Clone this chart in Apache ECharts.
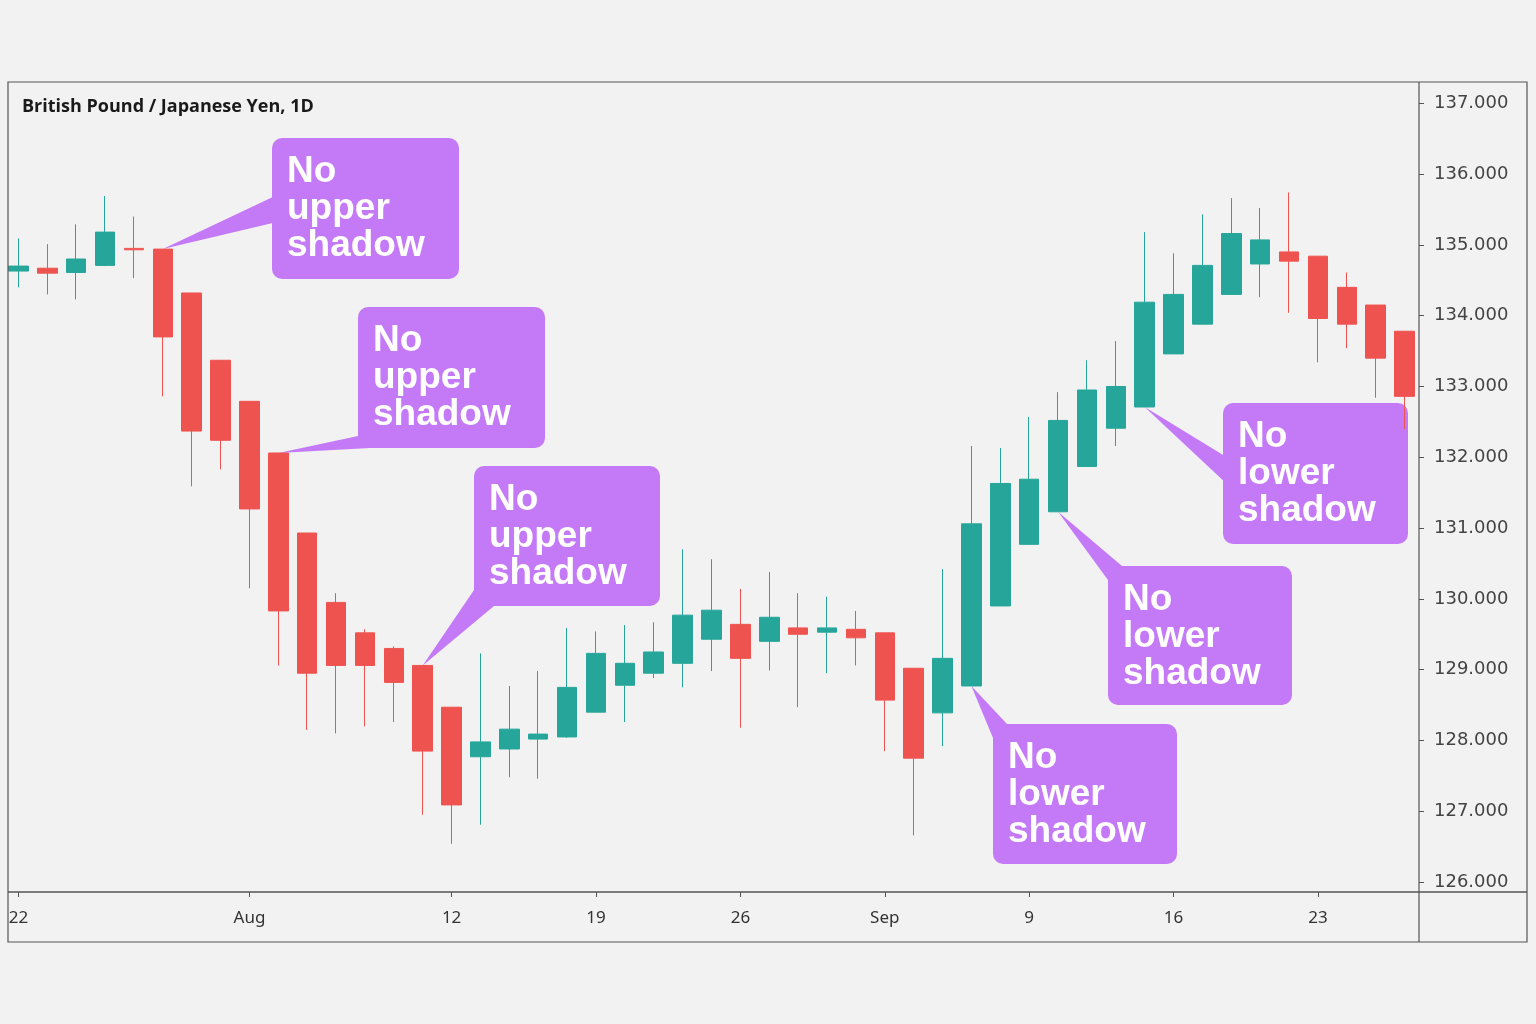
<!DOCTYPE html>
<html>
<head>
<meta charset="utf-8">
<script src="https://cdn.jsdelivr.net/npm/echarts@6/dist/echarts.min.js"></script>
<style>
  html, body { margin: 0; padding: 0; background: #f2f2f2; }
  #main { width: 1536px; height: 1024px; }
</style>
</head>
<body>
<div id="main"></div>
<script>
// GBP/JPY daily, 22 Jul - 26 Sep 2019
const dates = [
  '2019-07-22', '2019-07-23', '2019-07-24', '2019-07-25', '2019-07-26',
  '2019-07-29', '2019-07-30', '2019-07-31', '2019-08-01', '2019-08-02',
  '2019-08-05', '2019-08-06', '2019-08-07', '2019-08-08', '2019-08-09',
  '2019-08-12', '2019-08-13', '2019-08-14', '2019-08-15', '2019-08-16',
  '2019-08-19', '2019-08-20', '2019-08-21', '2019-08-22', '2019-08-23',
  '2019-08-26', '2019-08-27', '2019-08-28', '2019-08-29', '2019-08-30',
  '2019-09-02', '2019-09-03', '2019-09-04', '2019-09-05', '2019-09-06',
  '2019-09-09', '2019-09-10', '2019-09-11', '2019-09-12', '2019-09-13',
  '2019-09-16', '2019-09-17', '2019-09-18', '2019-09-19', '2019-09-20',
  '2019-09-23', '2019-09-24', '2019-09-25', '2019-09-26'
];
const openP = [
  134.63, 134.67, 134.61, 134.71, 134.95,
  134.94, 134.32, 133.37, 132.79, 132.06,
  130.93, 129.95, 129.52, 129.30, 129.06,
  128.47, 127.77, 127.88, 128.02, 128.05,
  128.40, 128.78, 128.95, 129.09, 129.43,
  129.64, 129.40, 129.59, 129.53, 129.57,
  129.52, 129.02, 128.39, 128.77, 129.90,
  130.77, 131.23, 131.87, 132.41, 132.71,
  133.46, 133.88, 134.30, 134.73, 134.90,
  134.84, 134.40, 134.15, 133.78
];
const closeP = [
  134.70, 134.60, 134.80, 135.18, 134.93,
  133.70, 132.37, 132.24, 131.27, 129.83,
  128.95, 129.06, 129.06, 128.82, 127.85,
  127.09, 127.98, 128.16, 128.09, 128.75,
  129.23, 129.09, 129.25, 129.77, 129.84,
  129.16, 129.74, 129.50, 129.59, 129.45,
  128.57, 127.75, 129.16, 131.06, 131.63,
  131.69, 132.52, 132.95, 133.00, 134.19,
  134.30, 134.71, 135.16, 135.07, 134.77,
  133.96, 133.88, 133.40, 132.86
];
const lowP = [
  134.40, 134.30, 134.23, 134.70, 134.53,
  132.86, 131.59, 131.83, 130.15, 129.06,
  128.15, 128.10, 128.20, 128.26, 126.95,
  126.54, 126.81, 127.48, 127.46, 128.04,
  128.40, 128.26, 128.88, 128.75, 128.98,
  128.18, 128.99, 128.47, 128.95, 129.06,
  127.85, 126.66, 127.92, 128.77, 129.90,
  130.77, 131.23, 131.87, 132.16, 132.71,
  133.46, 133.88, 134.30, 134.26, 134.04,
  133.34, 133.54, 132.84, 132.40
];
const highP = [
  135.09, 135.01, 135.29, 135.69, 135.40,
  134.94, 134.32, 133.37, 132.79, 132.06,
  130.93, 130.08, 129.57, 129.33, 129.06,
  128.47, 129.23, 128.77, 128.98, 129.59,
  129.54, 129.63, 129.67, 130.70, 130.56,
  130.14, 130.38, 130.08, 130.03, 129.83,
  129.52, 129.02, 130.42, 132.16, 132.13,
  132.57, 132.92, 133.37, 133.64, 135.18,
  134.88, 135.43, 135.66, 135.52, 135.74,
  134.84, 134.61, 134.15, 133.78
];

const xTickDates = ['2019-07-22', '2019-08-01', '2019-08-12', '2019-08-19', '2019-08-26',
                    '2019-09-02', '2019-09-09', '2019-09-16', '2019-09-23'];
const xTickText = ['22', 'Aug', '12', '19', '26', 'Sep', '9', '16', '23'];
const yTicks = [126, 127, 128, 129, 130, 131, 132, 133, 134, 135, 136, 137];

// callouts point at the open of these candles
const noteDates = ['2019-07-29', '2019-08-02', '2019-08-09', '2019-09-05', '2019-09-10', '2019-09-13'];
const noteText = ['No\nupper\nshadow', 'No\nupper\nshadow', 'No\nupper\nshadow',
                  'No\nlower\nshadow', 'No\nlower\nshadow', 'No\nlower\nshadow'];

// callout box layout (px) and wedge base points relative to the box
const noteBoxes = [
  { x: 272, y: 138, w: 187, h: 141, wedge: [[5, 57], [5, 84]] },
  { x: 358, y: 307, w: 187, h: 141, wedge: [[0, 129], [12, 129], [12, 141]] },
  { x: 474, y: 466, w: 186, h: 140, wedge: [[0, 124], [20, 124], [20, 140]] },
  { x: 993, y: 724, w: 184, h: 140, wedge: [[0, 14], [14, 14], [14, 0]] },
  { x: 1108, y: 566, w: 184, h: 139, wedge: [[0, 14], [14, 14], [14, 0]] },
  { x: 1223, y: 403, w: 185, h: 141, wedge: [[5, 55], [5, 82]] }
];

const PURPLE = '#c47af7';
const UP = '#26a69a';
const DOWN = '#ef5350';

const chart = echarts.init(document.getElementById('main'));
const candles = dates.map((d, i) => [openP[i], closeP[i], lowP[i], highP[i]]);
const isTick = (idx, val) => xTickDates.indexOf(val) >= 0;

chart.setOption({
  backgroundColor: '#f2f2f2',
  animation: false,
  title: {
    text: 'British Pound / Japanese Yen, 1D',
    left: 22,
    top: 98,
    padding: 0,
    textStyle: { fontFamily: 'Open Sans', fontWeight: 'bold', fontSize: 18, color: '#1a1a1a' }
  },
  grid: { left: 4, right: 117, top: 82, bottom: 132 },
  xAxis: {
    type: 'category',
    data: dates,
    boundaryGap: true,
    axisLine: { show: false },
    axisTick: { show: true, interval: isTick, alignWithLabel: true, length: 5, lineStyle: { color: '#555' } },
    axisLabel: {
      interval: isTick,
      formatter: v => xTickText[xTickDates.indexOf(v)],
      margin: 18,
      fontFamily: 'Noto Sans',
      fontSize: 17,
      color: '#333'
    },
    splitLine: { show: false }
  },
  yAxis: {
    type: 'value',
    position: 'right',
    min: 125.86,
    max: 137.3,
    splitLine: { show: false },
    axisLine: { show: false },
    axisTick: { show: true, length: 5, customValues: yTicks, lineStyle: { color: '#555' } },
    axisLabel: {
      customValues: yTicks,
      formatter: v => v.toFixed(3),
      margin: 15,
      fontFamily: 'DejaVu Sans',
      fontSize: 18,
      color: '#444'
    }
  },
  series: [{
    type: 'candlestick',
    data: candles,
    barWidth: 20,
    silent: true,
    itemStyle: { color: UP, color0: DOWN, borderColor: UP, borderColor0: DOWN, borderWidth: 1 },
    emphasis: { disabled: true }
  }]
});

const graphics = [
  { type: 'rect', z: 10, silent: true, shape: { x: 8, y: 82, width: 1519, height: 860 },
    style: { fill: null, stroke: '#555', lineWidth: 1.2 } },
  { type: 'line', z: 10, silent: true, shape: { x1: 8, y1: 892, x2: 1527, y2: 892 },
    style: { stroke: '#555', lineWidth: 1.5 } },
  { type: 'line', z: 10, silent: true, shape: { x1: 1419, y1: 82, x2: 1419, y2: 942 },
    style: { stroke: '#555', lineWidth: 1.2 } }
];

noteDates.forEach((d, k) => {
  const i = dates.indexOf(d);
  const tip = chart.convertToPixel({ gridIndex: 0 }, [i, openP[i]]);
  const b = noteBoxes[k];
  const pts = [tip].concat(b.wedge.map(p => [b.x + p[0], b.y + p[1]]));
  graphics.push(
    { type: 'polygon', z: 0, silent: true, shape: { points: pts }, style: { fill: PURPLE } },
    { type: 'rect', z: 0, silent: true, shape: { x: b.x, y: b.y, width: b.w, height: b.h, r: 10 },
      style: { fill: PURPLE } },
    { type: 'text', z: 1, silent: true, x: b.x + 15, y: b.y + 15,
      style: { text: noteText[k], fill: '#fff', fontFamily: 'Liberation Sans', fontWeight: 'bold',
               fontSize: 37, lineHeight: 37, verticalAlign: 'top' } }
  );
});

chart.setOption({ graphic: graphics });
</script>
</body>
</html>
